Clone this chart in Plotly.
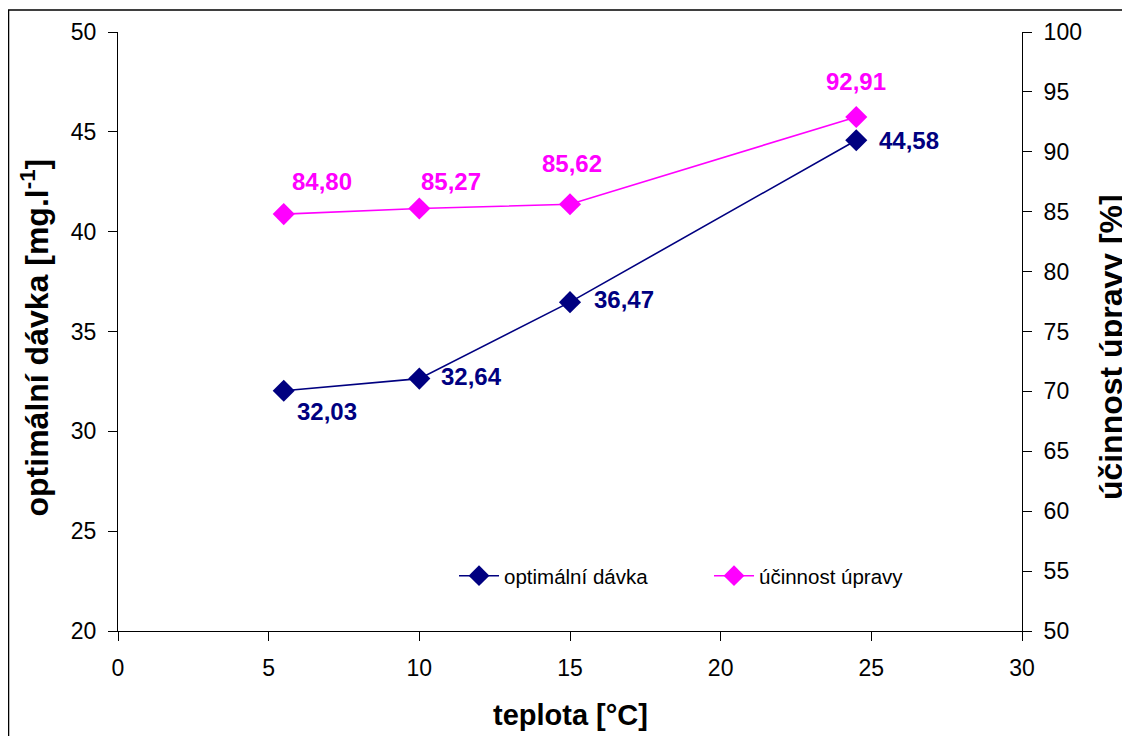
import plotly.graph_objects as go

teplota = [5.5, 10, 15, 24.5]
davka = [32.03, 32.64, 36.47, 44.58]
ucinnost = [84.80, 85.27, 85.62, 92.91]
davka_labels = ["32,03", "32,64", "36,47", "44,58"]
ucinnost_labels = ["84,80", "85,27", "85,62", "92,91"]

BLUE = "#000080"
PINK = "#FF00FF"
FONT = "Liberation Sans, Arial, sans-serif"

fig = go.Figure()
fig.add_trace(go.Scatter(
    x=teplota, y=davka, name="optimální dávka", mode="lines+markers",
    line=dict(color=BLUE, width=1.6),
    marker=dict(symbol="diamond", size=17, color=BLUE),
    yaxis="y"))
fig.add_trace(go.Scatter(
    x=teplota, y=ucinnost, name="účinnost úpravy", mode="lines+markers",
    line=dict(color=PINK, width=1.6),
    marker=dict(symbol="diamond", size=17, color=PINK),
    yaxis="y2"))

# label offsets (pixels) for styling
blue_off = [(43, -21), (52, 2), (54, 3), (53, 0)]
pink_off = [(38, 33), (32, 27), (2, 41), (0, 35)]

ann = []
for xv, yv, t, (dx, dy) in zip(teplota, davka, davka_labels, blue_off):
    ann.append(dict(x=xv, y=yv, xref="x", yref="y", text=t, showarrow=False,
                    xshift=dx, yshift=dy,
                    font=dict(family=FONT, size=24, color=BLUE, weight="bold")))
for xv, yv, t, (dx, dy) in zip(teplota, ucinnost, ucinnost_labels, pink_off):
    ann.append(dict(x=xv, y=yv, xref="x", yref="y2", text=t, showarrow=False,
                    xshift=dx, yshift=dy,
                    font=dict(family=FONT, size=24, color=PINK, weight="bold")))

ann.append(dict(x=-0.0918, y=0.49, xref="paper", yref="paper", textangle=-90,
                text="optimální dávka [mg.l<sup>-1</sup>]", showarrow=False,
                xanchor="center", yanchor="middle",
                font=dict(family=FONT, size=32, color="black", weight="bold")))
ann.append(dict(x=1.0985, y=0.474, xref="paper", yref="paper", textangle=-90,
                text="účinnost úpravy [%]", showarrow=False,
                xanchor="center", yanchor="middle",
                font=dict(family=FONT, size=32, color="black", weight="bold")))
ann.append(dict(x=0.5, y=-0.1402, xref="paper", yref="paper",
                text="teplota [°C]", showarrow=False,
                xanchor="center", yanchor="middle",
                font=dict(family=FONT, size=29, color="black", weight="bold")))

axis_common = dict(showgrid=False, zeroline=False, showline=True, linecolor="black",
                   linewidth=1, ticks="outside", ticklen=9, tickcolor="black",
                   ticklabelstandoff=7,
                   tickfont=dict(family=FONT, size=23, color="black"))

# page body has an 8px margin; figure is sized/placed to compensate
fig.update_layout(
    width=1122, height=728,
    margin=dict(l=110, r=108, t=24, b=105),
    paper_bgcolor="white", plot_bgcolor="white",
    xaxis=dict(range=[0, 30], dtick=5, **axis_common),
    yaxis=dict(range=[20, 50], dtick=5, **axis_common),
    yaxis2=dict(range=[50, 100], dtick=5, overlaying="y", side="right", **axis_common),
    showlegend=True,
    legend=dict(orientation="h", x=0.3717, y=0.092, xanchor="left", yanchor="middle",
                bgcolor="rgba(0,0,0,0)", font=dict(family=FONT, size=20.5, color="black"),
                itemwidth=40, entrywidth=200),
    annotations=ann,
    shapes=[dict(type="rect", xref="paper", yref="paper",
                 x0=-0.1211, x1=1.3, y0=-0.4, y1=1.0367,
                 line=dict(color="black", width=1.5), layer="below")],
)

fig.write_html("out.html")
